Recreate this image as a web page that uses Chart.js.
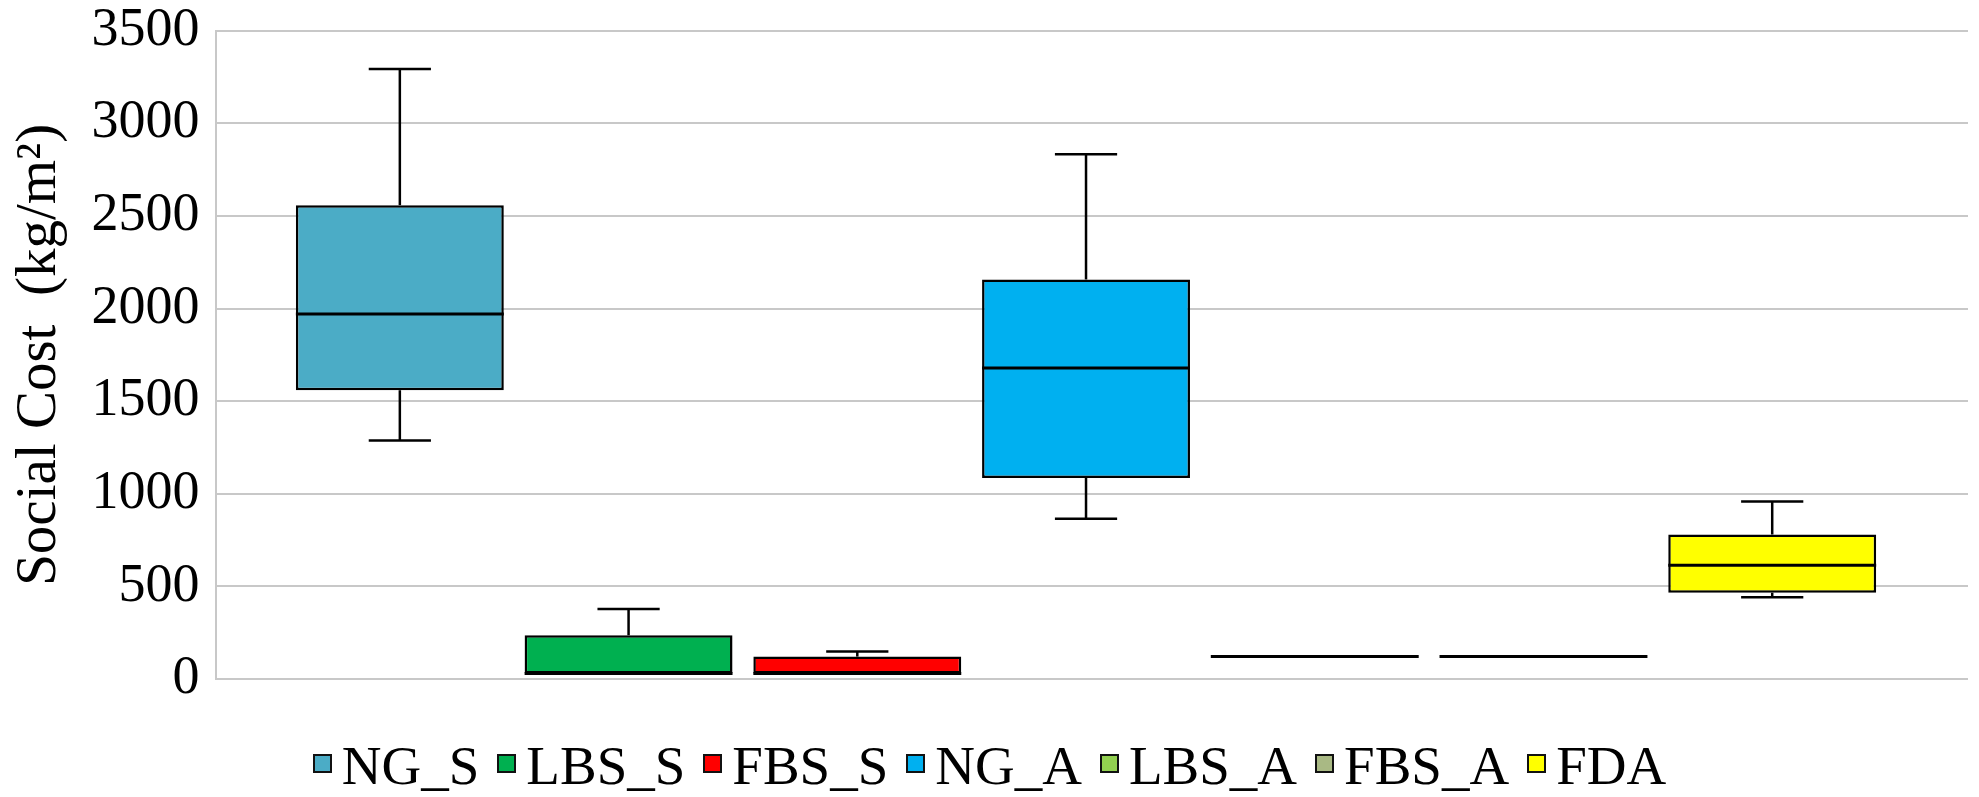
<!DOCTYPE html>
<html>
<head>
<meta charset="utf-8">
<title>Social Cost box plot</title>
<script src="https://cdn.jsdelivr.net/npm/chart.js@4.4.1/dist/chart.umd.min.js"></script>
<style>
    html, body { margin: 0; padding: 0; background: #fff; }
    #wrap { position: relative; width: 1979px; height: 797px; }
    #legend {
        position: absolute; left: 0; right: 0; top: 736px; height: 60px;
        display: flex; justify-content: center; align-items: center;
        font-family: 'Liberation Serif', 'Times New Roman', serif; font-size: 55px; color: #000;
    }
    .item { display: flex; align-items: center; margin-left: 18px; }
    .item:first-child { margin-left: 0; }
    .swatch { width: 19px; height: 19px; box-sizing: border-box; border: 2px solid #111; margin-right: 10px; position: relative; top: -3px; }
    .label { line-height: 60px; white-space: pre; }
</style>
</head>
<body>
<div id="wrap">
    <canvas id="chart"></canvas>
    <div id="legend"></div>
</div>
<script>
// Box plot data (kg/m2)
const categories = ['NG_S', 'LBS_S', 'FBS_S', 'NG_A', 'LBS_A', 'FBS_A', 'FDA'];
const lowWhisker = [1288, 30, 30, 865, 122, 122, 442];
const lowerQuartile = [1559, 30, 30, 1085, 122, 122, 466];
const medians = [1970, 30, 30, 1679, 122, 122, 614];
const upperQuartile = [2558, 236, 121, 2157, 122, 122, 780];
const highWhisker = [3293, 378, 149, 2833, 122, 122, 958];

// y axis ticks
const yMin = 0;
const yMax = 3500;
const yStep = 500;

const colors = ['#4BACC6', '#00B050', '#FF0000', '#00B0F0', '#92D050', '#A9B984', '#FFFF00'];

const serif = "'Liberation Serif', 'Times New Roman', serif";

// whiskers, caps and median lines, drawn through the chart scales
const boxWhiskers = {
    id: 'boxWhiskers',
    afterDatasetsDraw(chart) {
        const ctx = chart.ctx;
        const x = chart.scales.x;
        const y = chart.scales.y;
        ctx.save();
        ctx.strokeStyle = '#000';
        ctx.lineWidth = 2.5;
        categories.forEach((name, i) => {
            const bar = chart.getDatasetMeta(i).data[0];
            const cx = x.getPixelForValue(i);
            const cap = x.getPixelForValue(i + 0.136) - cx;
            const line = (x1, y1, x2, y2) => {
                ctx.beginPath();
                ctx.moveTo(x1, y1);
                ctx.lineTo(x2, y2);
                ctx.stroke();
            };
            if (highWhisker[i] > upperQuartile[i]) {
                line(cx, y.getPixelForValue(upperQuartile[i]), cx, y.getPixelForValue(highWhisker[i]));
                line(cx - cap, y.getPixelForValue(highWhisker[i]), cx + cap, y.getPixelForValue(highWhisker[i]));
            }
            if (lowWhisker[i] < lowerQuartile[i]) {
                line(cx, y.getPixelForValue(lowerQuartile[i]), cx, y.getPixelForValue(lowWhisker[i]));
                line(cx - cap, y.getPixelForValue(lowWhisker[i]), cx + cap, y.getPixelForValue(lowWhisker[i]));
            }
            ctx.lineWidth = 3;
            const my = y.getPixelForValue(medians[i]);
            line(bar.x - bar.width / 2, my, bar.x + bar.width / 2, my);
            ctx.lineWidth = 2.5;
        });
        ctx.restore();
    }
};

const datasets = categories.map((name, i) => ({
    label: name,
    data: [{ x: i, y: [lowerQuartile[i], upperQuartile[i]] }],
    backgroundColor: colors[i],
    borderColor: '#000',
    borderWidth: 2.5,
    borderSkipped: false,
    grouped: false,
    categoryPercentage: 1,
    barPercentage: 0.909
}));

const chart = new Chart(document.getElementById('chart'), {
    type: 'bar',
    data: { datasets: datasets },
    options: {
        responsive: true,
        maintainAspectRatio: false,
        animation: false,
        layout: { padding: { left: 3, right: 11, top: 0, bottom: 118 } },
        plugins: {
            legend: { display: false },
            tooltip: { enabled: false }
        },
        scales: {
            x: {
                type: 'linear',
                display: false,
                offset: false,
                min: -0.802,
                max: 6.856,
                afterBuildTicks: scale => {
                    scale.ticks = categories.map((c, i) => ({ value: i }));
                }
            },
            y: {
                min: yMin,
                max: yMax,
                ticks: {
                    stepSize: yStep,
                    padding: 17,
                    color: '#000',
                    font: { family: serif, size: 54, lineHeight: 0.507 },
                    callback: v => String(v)
                },
                grid: { color: '#c8c8c8', lineWidth: 2, drawTicks: false },
                border: { display: true, color: '#c8c8c8', width: 2 },
                title: {
                    display: true,
                    text: 'Social Cost  (kg/m²)',
                    color: '#000',
                    font: { family: serif, size: 57 },
                    padding: { top: 3, bottom: 0 }
                }
            }
        }
    },
    plugins: [boxWhiskers]
});

// legend built from the chart's own legend items
const legendBox = document.getElementById('legend');
Chart.defaults.plugins.legend.labels.generateLabels(chart).forEach(item => {
    const el = document.createElement('span');
    el.className = 'item';
    el.innerHTML = `<span class="swatch" style="background:${item.fillStyle}"></span><span class="label">${item.text}</span>`;
    legendBox.appendChild(el);
});
</script>
</body>
</html>
